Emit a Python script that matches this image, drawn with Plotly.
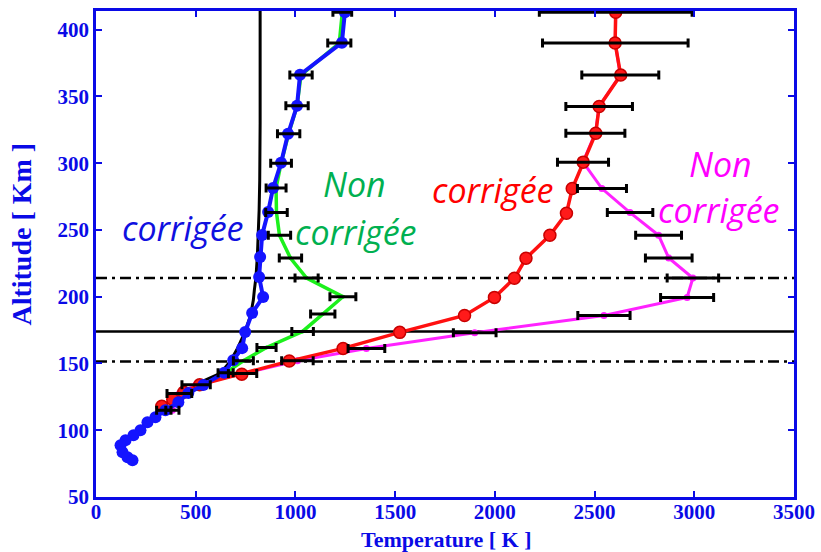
import numpy as np
import plotly.graph_objects as go

# Model temperature profile (black curve), altitude in km, temperature in K
model_alt = [133, 136, 142.5, 151.5, 162, 173.7, 186, 197.5, 205, 214.5, 230, 246, 265, 287, 330, 414]
model_T = [498, 523, 623, 673, 712, 747, 775, 789, 794, 802, 809, 814, 818, 821, 823, 823]

# Low-temperature profile, corrected (blue)
blue_alt = [413, 390.3, 366.3, 343, 322, 300.3, 281.5, 263.5, 246.3, 229.8, 214.8, 199.8, 187.8,
            173.5, 161.5, 152.5, 143, 133.8, 127.8, 121, 115, 109.8, 106, 100, 96.3, 92.5, 88.8,
            83.5, 79.8, 77.5]
blue_T = [1248, 1233, 1023, 1008, 963, 928, 888, 863, 833, 823, 818, 838, 783,
          748, 733, 688, 643, 538, 463, 413, 348, 298, 258, 223, 188, 148, 123,
          133, 158, 183]

# Low-temperature profile, uncorrected (green) with uncertainties
green_alt = [413, 390, 366, 343, 322, 300, 281.5, 263, 246, 229, 214, 200, 187, 174, 162, 152,
             143, 134, 128, 121, 115, 110, 106, 100, 96, 92.5, 89, 83.5, 80, 77.5]
green_T = [1235, 1220, 1028, 1008, 966, 928, 903, 905, 920, 975, 1056, 1238, 1137, 1036, 855, 739,
           650, 538, 463, 413, 340, 298, 258, 223, 188, 148, 123, 133, 158, 183]
green_err = [47, 58, 56, 56, 56, 52, 50, 54, 56, 56, 58, 65, 61, 54, 48, 50,
             38, np.nan, np.nan, np.nan, 36, np.nan, np.nan, np.nan, np.nan, np.nan, np.nan,
             np.nan, np.nan, np.nan]

# High-temperature profile, corrected (red)
red_alt = [413, 390, 366, 342.5, 322.5, 300.8, 281, 262.5, 246, 228.8, 213.8, 199.5, 186, 173.3,
           161.3, 151.8, 142, 134, 128.5, 123, 118]
red_T = [2606, 2603, 2631, 2523, 2506, 2443, 2388, 2359, 2276, 2156, 2098, 1998, 1848, 1523,
         1239, 969, 731, 520, 440, 385, 330]

# High-temperature profile, uncorrected (magenta) with uncertainties
mag_alt = [413, 390, 366, 342.5, 322.5, 300.8, 281, 263, 246, 229, 214, 199.5, 186, 173,
           161.3, 152, 142.5, 134, 127.5, 115]
mag_T = [2606, 2604, 2629, 2523, 2504, 2442, 2537, 2678, 2821, 2872, 2993, 2964, 2547, 1899,
         1356, 1010, 735, 502, 418, 383]
mag_err = [383, 365, 193, 167, 148, 128, 123, 114, 115, 117, 129, 133, 131, 107,
           92, 79, 71, 71, 62, 33]

# Reference altitudes (km)
dashdot_alts = [214, 151.5]
solid_alts = [174]

x_ticks = [0, 500, 1000, 1500, 2000, 2500, 3000, 3500]
y_ticks = [50, 100, 150, 200, 250, 300, 350, 400]

AXIS_BLUE = "#0a0ae6"

fig = go.Figure()

fig.add_trace(go.Scatter(x=model_T, y=model_alt, mode="lines",
                         line=dict(color="black", width=3), hoverinfo="skip"))
fig.add_trace(go.Scatter(x=green_T, y=green_alt, mode="lines+markers",
                         line=dict(color="#1cf01c", width=3.5),
                         marker=dict(size=4, color="#1cf01c")))
fig.add_trace(go.Scatter(x=mag_T, y=mag_alt, mode="lines+markers",
                         line=dict(color="#ff22ff", width=3),
                         marker=dict(size=7, color="#ff22ff")))
fig.add_trace(go.Scatter(x=red_T, y=red_alt, mode="lines+markers",
                         line=dict(color="#ff1010", width=3.5),
                         marker=dict(size=12, color="#ff1a1a",
                                     line=dict(color="#c80000", width=1.5))))
fig.add_trace(go.Scatter(x=blue_T, y=blue_alt, mode="lines+markers",
                         line=dict(color="#1414ff", width=4),
                         marker=dict(size=12, color="#1414ff")))


def error_trace(T, alt, err):
    T = np.asarray(T, float)
    alt = np.asarray(alt, float)
    err = np.asarray(err, float)
    keep = ~np.isnan(err)
    return go.Scatter(x=T[keep], y=alt[keep], mode="markers",
                      marker=dict(size=1, color="rgba(0,0,0,0)"),
                      error_x=dict(type="data", array=err[keep], visible=True,
                                   color="black", thickness=3, width=4.5),
                      hoverinfo="skip")


fig.add_trace(error_trace(green_T, green_alt, green_err))
fig.add_trace(error_trace(mag_T, mag_alt, mag_err))

for a in dashdot_alts:
    fig.add_shape(type="line", xref="paper", x0=0, x1=1, yref="y", y0=a, y1=a,
                  line=dict(color="black", width=2.5, dash="11px,5px,3px,5px"), layer="below")
for a in solid_alts:
    fig.add_shape(type="line", xref="paper", x0=0, x1=1, yref="y", y0=a, y1=a,
                  line=dict(color="black", width=2.5), layer="below")

label_font = "Open Sans"
labels = [
    ("corrigée", 437, 251.5, "#1010e0"),
    ("Non", 1297, 284.5, "#00b050"),
    ("corrigée", 1302, 248.5, "#00b050"),
    ("corrigée", 1992, 280, "#ff0000"),
    ("Non", 3132, 299.5, "#ff00ff"),
    ("corrigée", 3122, 265, "#ff00ff"),
]
for txt, lx, ly, col in labels:
    fig.add_annotation(x=lx, y=ly, xref="x", yref="y", text=txt, showarrow=False,
                       font=dict(family=label_font, size=34, color=col, style="italic"))

tick_font = dict(family="Liberation Serif", size=21, color=AXIS_BLUE, weight="bold")
title_font = dict(family="Liberation Serif", color=AXIS_BLUE, weight="bold")

# Axis titles placed in paper coordinates below / left of the plotting area
fig.add_annotation(x=0.501, y=-0.088, xref="paper", yref="paper", text="Temperature [ K ]",
                   showarrow=False, yanchor="middle", font=dict(size=22, **title_font))
fig.add_annotation(x=-0.106, y=0.54, xref="paper", yref="paper", text="Altitude [ Km ]",
                   showarrow=False, textangle=-90, xanchor="center", yanchor="middle",
                   font=dict(size=28, **title_font))

fig.update_xaxes(range=[0, 3500], tickvals=x_ticks, ticks="inside", ticklen=6, tickwidth=1.5,
                 tickcolor=AXIS_BLUE, showline=True, linecolor=AXIS_BLUE, linewidth=2.5,
                 mirror="ticks", showgrid=False, zeroline=False, tickfont=tick_font,
                 ticklabelstandoff=-6, automargin=False)
fig.update_yaxes(range=[50, 414], tickvals=y_ticks, ticks="inside", ticklen=6, tickwidth=1.5,
                 tickcolor=AXIS_BLUE, showline=True, linecolor=AXIS_BLUE, linewidth=2.5,
                 mirror="ticks", showgrid=False, zeroline=False, tickfont=tick_font,
                 automargin=False)

fig.update_layout(width=821, height=552, showlegend=False,
                  margin=dict(l=96, r=27, t=11, b=55),
                  plot_bgcolor="white", paper_bgcolor="white")

fig.write_html("out.html")
